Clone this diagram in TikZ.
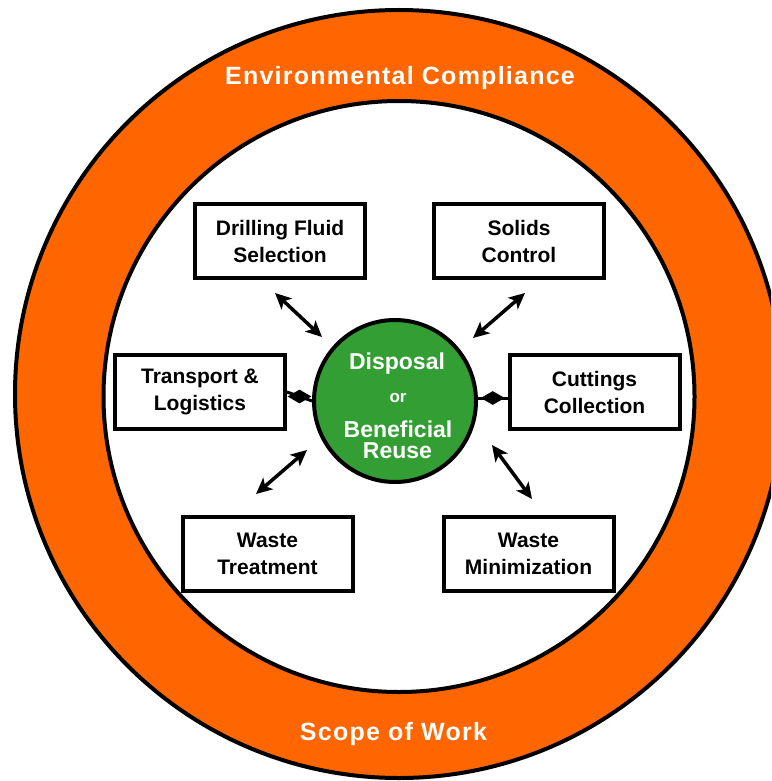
\documentclass[tikz,border=0pt]{standalone}
\usepackage{fontspec}
\setmainfont{Liberation Sans}
\usetikzlibrary{arrows.meta,shapes.geometric}
\definecolor{ringorange}{RGB}{255,102,0}
\definecolor{hubgreen}{RGB}{51,158,51}
\begin{document}
\begin{tikzpicture}[x=1pt,y=-1pt,
  box/.style={draw=black, line width=4pt, fill=white, minimum width=170pt, minimum height=74pt,
    inner sep=0pt, align=center, font=\bfseries\fontsize{21}{27}\selectfont},
  tipA/.tip={Stealth[length=16pt 0 0,width=15pt 0 0,inset=4pt 0]},
  arr/.style={line width=3.5pt, tipA-tipA},
  link/.style={line width=3pt},
  diamark/.style={diamond, fill=black, draw=none, inner sep=0pt, minimum width=25pt, minimum height=15pt},
  ringtext/.style={text=white, anchor=base, font=\bfseries\fontsize{25}{30}\selectfont\addfontfeatures{LetterSpace=5}},
  hubtext/.style={text=white, anchor=base, font=\bfseries\fontsize{23}{23}\selectfont}]
\useasboundingbox (0,0) rectangle (771,781);
\clip (0,0) rectangle (771,781);
% rings
\node[circle, draw=black, line width=4pt, fill=ringorange, minimum size=768pt, inner sep=0pt] (outer) at (399,394) {};
\node[circle, draw=black, line width=4pt, fill=white, minimum size=591pt, inner sep=0pt] (inner) at (399,396.5) {};
\node[ringtext] (envtxt) at (400,85) {Environmental Compliance};
\node[ringtext] (scopetxt) at (393.5,740) {Scope of Work};
% boxes
\node[box] (df) at (280,241) {Drilling Fluid\\Selection};
\node[box] (sc) at (519,241) {Solids\\Control};
\node[box] (tl) at (200,392) {Transport \&\\Logistics};
\node[box] (cc) at (594.5,392) {Cuttings\\Collection};
\node[box] (wt) at (267.5,553.5) {Waste\\Treatment};
\node[box] (wm) at (528.5,553.5) {Waste\\Minimization};
% hub
\node[circle, draw=black, line width=4pt, fill=hubgreen, minimum size=162pt, inner sep=0pt] (hub) at (395,401) {};
\node[hubtext] (hub1) at (397,369) {Disposal};
\node[hubtext, font=\bfseries\fontsize{17}{17}\selectfont] (hub2) at (398,402) {or};
\node[hubtext] (hub3) at (398,437) {Beneficial};
\node[hubtext] (hub4) at (397.5,458) {Reuse};
% arrows
\coordinate (a1s) at (275,293); \coordinate (a1e) at (322,337);
\coordinate (a2s) at (525,293); \coordinate (a2e) at (473,338);
\coordinate (a3s) at (256,494); \coordinate (a3e) at (307,450);
\coordinate (a4s) at (532,499); \coordinate (a4e) at (492,445);
\draw[arr] (a1s) -- (a1e);
\draw[arr] (a2s) -- (a2e);
\draw[arr] (a3s) -- (a3e);
\draw[arr] (a4s) -- (a4e);
\draw[link] (tl.east) -- (hub.west) node[diamark, pos=0.5] (dmL) {};
\draw[link] ([yshift=-6pt]cc.west) -- ([yshift=-6pt]cc.west -| hub.east) node[diamark, pos=0.5] (dmR) {};
\end{tikzpicture}
\end{document}
